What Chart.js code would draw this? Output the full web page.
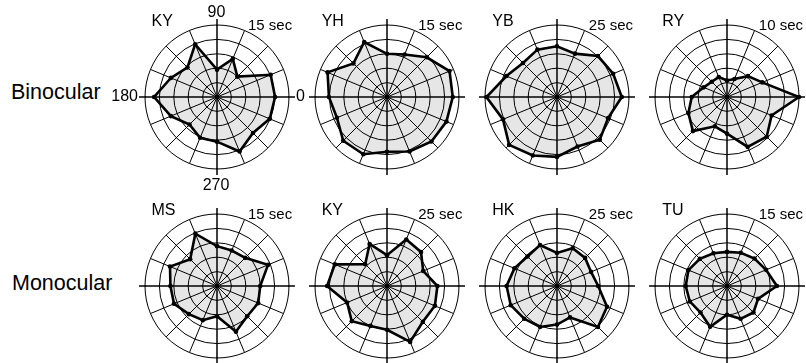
<!DOCTYPE html>
<html>
<head>
<meta charset="utf-8">
<script src="https://cdn.jsdelivr.net/npm/chart.js@4.4.1/dist/chart.umd.min.js"></script>
<style>
  body { margin: 0; width: 806px; height: 363px; overflow: hidden; position: relative; background: #fff;
         font-family: "Liberation Sans", Arial, Helvetica, sans-serif; color: #000; }
  .lbl { position: absolute; white-space: nowrap; line-height: 1; }
  canvas { position: absolute; }
</style>
</head>
<body>
<script>
// directions (deg), counter-clockwise from 0 = right
const ANGLES = [0, 22.5, 45, 67.5, 90, 112.5, 135, 157.5, 180, 202.5, 225, 247.5, 270, 292.5, 315, 337.5];

// durations (sec) per direction, same order as ANGLES
const BIN_KY = [12.1, 12.1, 6.0, 8.6, 5.7, 11.9, 8.7, 10.4, 13.1, 10.4, 8.1, 9.2, 9.3, 12.3, 10.6, 11.9];
const BIN_YH = [13.7, 14.1, 11.7, 9.6, 9.0, 12.4, 9.9, 13.4, 12.1, 11.3, 12.9, 12.9, 11.4, 12.3, 13.1, 13.4];
const BIN_YB = [22.5, 21.1, 20.1, 16.3, 17.6, 17.8, 16.7, 19.0, 24.5, 20.3, 23.5, 22.0, 20.8, 18.6, 21.0, 19.2];
const BIN_RY = [10.0, 5.3, 4.1, 2.7, 2.3, 3.0, 3.0, 3.5, 4.9, 5.8, 6.7, 4.4, 5.1, 7.5, 7.8, 6.7];
const MON_MS = [9.0, 11.5, 8.3, 8.0, 8.3, 11.8, 7.9, 10.6, 9.7, 9.7, 8.3, 7.7, 6.3, 10.3, 8.9, 9.3];
const MON_KY = [17.5, 13.6, 16.7, 17.5, 10.7, 15.8, 10.7, 19.6, 20.8, 15.0, 17.3, 15.0, 15.2, 21.0, 17.6, 18.0];
const MON_HK = [14.3, 12.8, 13.8, 14.2, 11.5, 15.4, 14.5, 16.0, 17.5, 17.4, 16.1, 15.4, 13.4, 11.8, 20.1, 18.8];
const MON_TU = [10.4, 8.8, 8.1, 7.5, 7.1, 7.4, 8.0, 8.7, 8.6, 8.4, 7.8, 9.2, 6.0, 7.4, 7.8, 7.0];

const NAMES = ['KY', 'YH', 'YB', 'RY', 'MS', 'KY', 'HK', 'TU'];
const MAXES = [15, 15, 25, 10, 15, 25, 25, 15];
const SERIES = [BIN_KY, BIN_YH, BIN_YB, BIN_RY, MON_MS, MON_KY, MON_HK, MON_TU];

// panel centres on the page
const COL_X = [216.5, 386.7, 557.3, 727.3];
const ROW_Y = [97, 286];
const R = 72;
const PAD = 8;
const SIZE = 2 * (R + PAD);

function addLabel(text, x, baseline, size, align) {
  const d = document.createElement('div');
  d.className = 'lbl';
  d.textContent = text;
  d.style.fontSize = size + 'px';
  d.style.top = (baseline - 0.8465 * size) + 'px';
  d.style.left = x + 'px';
  if (align === 'center') d.style.transform = 'translateX(-50%)';
  if (align === 'right') d.style.transform = 'translateX(-100%)';
  document.body.appendChild(d);
}

// radar draws index 0 at startAngle and goes clockwise, so flip to counter-clockwise
function toClockwise(arr) {
  return [arr[0]].concat(arr.slice(1).reverse());
}

// the 0/90/180/270 axes poke a little past the outer ring
const axisStubs = {
  id: 'axisStubs',
  afterDraw(chart) {
    const scale = chart.scales.r;
    const ctx = chart.ctx;
    ctx.save();
    ctx.strokeStyle = '#000';
    ctx.lineWidth = 1.5;
    [0, 4, 8, 12].forEach(idx => {
      const a = scale.getPointPosition(idx, scale.drawingArea - 1);
      const b = scale.getPointPosition(idx, scale.drawingArea + 6);
      ctx.beginPath();
      ctx.moveTo(a.x, a.y);
      ctx.lineTo(b.x, b.y);
      ctx.stroke();
    });
    ctx.restore();
  }
};

SERIES.forEach((vals, i) => {
  const cx = COL_X[i % 4];
  const cy = ROW_Y[Math.floor(i / 4)];
  const canvas = document.createElement('canvas');
  canvas.width = SIZE;
  canvas.height = SIZE;
  canvas.style.left = (cx - SIZE / 2) + 'px';
  canvas.style.top = (cy - SIZE / 2) + 'px';
  document.body.appendChild(canvas);

  new Chart(canvas.getContext('2d'), {
    type: 'radar',
    data: {
      labels: toClockwise(ANGLES).map(String),
      datasets: [{
        data: toClockwise(vals),
        fill: true,
        backgroundColor: '#e6e6e6',
        borderColor: '#000',
        borderWidth: 2.6,
        pointRadius: 2.3,
        pointBackgroundColor: '#000',
        pointBorderWidth: 0,
        clip: false
      }]
    },
    options: {
      responsive: false,
      animation: false,
      layout: { padding: PAD },
      plugins: { legend: { display: false }, tooltip: { enabled: false } },
      scales: {
        r: {
          min: 0,
          max: MAXES[i],
          startAngle: 90,
          ticks: { display: false, stepSize: MAXES[i] / 5 },
          // web drawn on top of the filled area
          grid: { circular: true, color: '#000', lineWidth: 1, z: 1 },
          angleLines: {
            color: '#000',
            lineWidth: ctx => (ctx.index % 4 === 0 ? 1.5 : 1)
          },
          pointLabels: { display: false }
        }
      }
    },
    plugins: [axisStubs]
  });

  addLabel(NAMES[i], cx - 65, cy - 70.3, 16);
  addLabel(MAXES[i] + ' sec', cx + 31.5, cy - 67.7, 15);
});

// row headings
addLabel('Binocular', 11, 100.5, 21.5);
addLabel('Monocular', 12, 291, 21.5);

// direction labels on the first panel
addLabel('90', 216.5, 18, 16, 'center');
addLabel('0', 296, 102, 16);
addLabel('180', 138, 102, 16, 'right');
addLabel('270', 216, 191, 16, 'center');
</script>
</body>
</html>
